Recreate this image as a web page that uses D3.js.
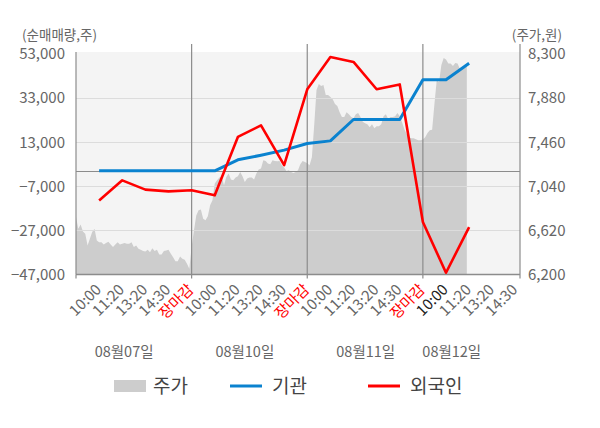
<!DOCTYPE html>
<html>
<head>
<meta charset="utf-8">
<script src="https://cdn.jsdelivr.net/npm/d3@7"></script>
<style>
body { margin: 0; background: #fff; }
svg text { font-family: "Noto Sans CJK KR", "Noto Sans", sans-serif; }
.axis-text { font-size: 15px; fill: #666; }
.unit-text { font-size: 13.5px; fill: #666; }
.time-text { font-size: 15px; fill: #666; }
.time-close { fill: #ff0000; }
.time-now { fill: #222; }
.date-text { font-size: 14.5px; fill: #666; }
.legend-text { font-size: 19px; fill: #444; }
</style>
</head>
<body>
<svg width="600" height="428"></svg>
<script>
// x axis labels, one per slot (slot 1..19)
var timeLabels = ['10:00', '11:20', '13:20', '14:30', '장마감',
                  '10:00', '11:20', '13:20', '14:30', '장마감',
                  '10:00', '11:20', '13:20', '14:30', '장마감',
                  '10:00', '11:20', '13:20', '14:30'];
var dayLabels = ['08월07일', '08월10일', '08월11일', '08월12일'];

var leftTicks = [53000, 33000, 13000, -7000, -27000, -47000];
var rightTicks = [8300, 7880, 7460, 7040, 6620, 6200];

// 순매매량 at slots 1..17
var foreignNet = [-13400, -4300, -8500, -9300, -8800, -11100, 15400, 20600, 2600,
                  37000, 51600, 49400, 37000, 39200, -23200, -46200, -25500];
var instNet = [0, 0, 0, 0, 0, 0, 5000, 7100, 9400,
               12400, 13600, 23300, 23300, 23300, 41300, 41300, 48800];

// 주가, 10 readings per slot
var priceDay1 = [6747, 6636, 6677, 6610, 6589, 6477, 6541, 6604, 6636, 6525,
                 6508, 6508, 6486, 6499, 6512, 6486, 6461, 6486, 6508, 6486,
                 6493, 6499, 6493, 6493, 6508, 6461, 6477, 6445, 6436, 6423,
                 6420, 6436, 6413, 6451, 6423, 6436, 6391, 6391, 6423, 6429,
                 6436, 6398, 6365, 6327, 6327, 6372, 6350, 6340, 6302, 6255];
var priceDay2 = [6461, 6620, 6763, 6811, 6820, 6732, 6716, 6754, 6859, 6906,
                 7066, 7097, 7123, 7129, 7050, 7129, 7161, 7104, 7097, 7123,
                 7135, 7177, 7135, 7081, 7114, 7123, 7123, 7104, 7161, 7199,
                 7209, 7288, 7282, 7257, 7250, 7288, 7282, 7279, 7282, 7241,
                 7219, 7186, 7193, 7177, 7167, 7177, 7193, 7250, 7282, 7272];
var priceDay3 = [7260, 7240, 7317, 7622, 7956, 8014, 7995, 8004, 7909, 7909,
                 7890, 7870, 7823, 7804, 7746, 7699, 7699, 7746, 7727, 7699,
                 7689, 7727, 7737, 7699, 7654, 7641, 7632, 7603, 7632, 7594,
                 7613, 7613, 7632, 7708, 7727, 7680, 7699, 7699, 7708, 7737,
                 7708, 7651, 7584, 7536, 7508, 7498, 7498, 7489, 7479, 7479];
var priceDay4 = [7486, 7508, 7548, 7575, 7579, 7823, 8052, 8033, 8195, 8262,
                 8248, 8210, 8210, 8185, 8214, 8210, 8157, 8152, 8169, 8179];

function FlowChart(){

}

FlowChart.prototype.render = function(opt){
	this.opt = opt;
	this.svg = d3.select('svg');

	this.x = d3.scaleLinear().domain([0, 19.2]).range([opt.left, opt.right]);
	this.yL = d3.scaleLinear().domain([-47000, 53000]).range([opt.bottom, opt.top]);
	this.yR = d3.scaleLinear().domain([6200, 8300]).range([opt.bottom, opt.top]);

	this.addBackground();
	this.addPriceArea();
	this.addGrid();
	this.addAxes();
	this.addLine(instNet, '#0a82cf', 3);
	this.addLine(foreignNet, '#ff0000', 2.6);
	this.addLegend();
}

FlowChart.prototype.addBackground = function(){
	var o = this.opt;
	this.svg.append('rect')
		.attr('x', o.left).attr('y', o.top - 2)
		.attr('width', o.right - o.left).attr('height', o.bottom - o.top + 2)
		.attr('fill', '#f4f4f4');
}

FlowChart.prototype.addPriceArea = function(){
	var x = this.x, y = this.yR, o = this.opt;
	var pts = [];
	[priceDay1, priceDay2, priceDay3, priceDay4].forEach(function(arr, d){
		arr.forEach(function(p, i){
			pts.push({s: d * 5 + i * 0.1, p: p});
		});
	});
	var area = d3.area()
		.x(function(d){ return x(d.s); })
		.y0(o.bottom)
		.y1(function(d){ return y(d.p); });
	this.svg.append('path').datum(pts)
		.attr('d', area)
		.attr('fill', '#cdcdcd');
}

FlowChart.prototype.addGrid = function(){
	var o = this.opt, x = this.x, yL = this.yL;
	var g = this.svg.append('g');
	g.selectAll('.hgrid').data(leftTicks.slice(1, 5)).enter()
		.append('line')
		.attr('x1', o.left).attr('x2', o.right)
		.attr('y1', function(d){ return Math.round(yL(d)) + 0.5; })
		.attr('y2', function(d){ return Math.round(yL(d)) + 0.5; })
		.attr('stroke', '#dcdcdc').attr('stroke-width', 1);
	// zero line
	g.append('line')
		.attr('x1', o.left).attr('x2', o.right)
		.attr('y1', Math.round(yL(0)) + 0.5).attr('y2', Math.round(yL(0)) + 0.5)
		.attr('stroke', '#8c8c8c').attr('stroke-width', 1);
	// day separators
	g.selectAll('.vgrid').data([5, 10, 15]).enter()
		.append('line')
		.attr('x1', function(d){ return x(d); }).attr('x2', function(d){ return x(d); })
		.attr('y1', 44).attr('y2', o.bottom)
		.attr('stroke', '#8c8c8c').attr('stroke-width', 1.2);
}

FlowChart.prototype.addAxes = function(){
	var o = this.opt, x = this.x, svg = this.svg;

	var gl = svg.append('g').attr('transform', 'translate(' + o.left + ',0)')
		.call(d3.axisLeft(this.yL).tickValues(leftTicks).tickSize(0).tickPadding(11).tickFormat(d3.format(',')));
	var gr = svg.append('g').attr('transform', 'translate(' + o.right + ',0)')
		.call(d3.axisRight(this.yR).tickValues(rightTicks).tickSize(0).tickPadding(8).tickFormat(d3.format(',')));
	[gl, gr].forEach(function(g){
		g.select('.domain').remove();
		g.selectAll('text').attr('class', 'axis-text').attr('font-size', null).attr('fill', null);
	});

	// axis frame
	svg.append('line').attr('x1', o.left).attr('x2', o.left).attr('y1', o.top - 2).attr('y2', o.bottom)
		.attr('stroke', '#8c8c8c').attr('stroke-width', 1.2);
	svg.append('line').attr('x1', o.right).attr('x2', o.right).attr('y1', 44).attr('y2', o.bottom + 4)
		.attr('stroke', '#8c8c8c').attr('stroke-width', 1.2);
	svg.append('line').attr('x1', o.left).attr('x2', o.right).attr('y1', o.bottom).attr('y2', o.bottom)
		.attr('stroke', '#8c8c8c').attr('stroke-width', 1.4);
	svg.selectAll('.xtick').data([0, 5, 10, 15]).enter()
		.append('line')
		.attr('x1', function(d){ return x(d); }).attr('x2', function(d){ return x(d); })
		.attr('y1', o.bottom).attr('y2', o.bottom + 4)
		.attr('stroke', '#8c8c8c').attr('stroke-width', 1.2);

	// units
	svg.append('text').attr('class', 'unit-text').attr('x', 22).attr('y', 40).text('(순매매량,주)');
	svg.append('text').attr('class', 'unit-text').attr('x', 562).attr('y', 40)
		.attr('text-anchor', 'end').text('(주가,원)');

	// rotated time labels
	svg.selectAll('.time').data(timeLabels).enter()
		.append('text')
		.attr('class', function(d, i){
			if(d == '장마감') return 'time-text time-close';
			if(i == 15) return 'time-text time-now';
			return 'time-text';
		})
		.attr('text-anchor', 'end')
		.attr('transform', function(d, i){
			return 'translate(' + (x(i + 1) + 3) + ',' + (o.bottom + 16) + ') rotate(-45)';
		})
		.text(function(d){ return d; });

	// day labels
	var daySlot = [2.08, 7.3, 12.53, 16.25];
	svg.selectAll('.date').data(dayLabels).enter()
		.append('text')
		.attr('class', 'date-text')
		.attr('text-anchor', 'middle')
		.attr('x', function(d, i){ return x(daySlot[i]); })
		.attr('y', 357)
		.text(function(d){ return d; });
}

FlowChart.prototype.addLine = function(values, color, width){
	var x = this.x, y = this.yL;
	var line = d3.line()
		.x(function(d, i){ return x(i + 1); })
		.y(function(d){ return y(d); });
	this.svg.append('path').datum(values)
		.attr('d', line)
		.attr('fill', 'none')
		.attr('stroke', color)
		.attr('stroke-width', width)
		.attr('stroke-linejoin', 'round');
}

FlowChart.prototype.addLegend = function(){
	var g = this.svg.append('g').attr('transform', 'translate(0,386)');
	g.append('rect').attr('x', 114).attr('y', -6).attr('width', 32).attr('height', 12).attr('fill', '#cdcdcd');
	g.append('text').attr('class', 'legend-text').attr('x', 153).attr('y', 7).text('주가');
	g.append('line').attr('x1', 230).attr('x2', 262).attr('y1', 0).attr('y2', 0)
		.attr('stroke', '#0a82cf').attr('stroke-width', 3);
	g.append('text').attr('class', 'legend-text').attr('x', 272).attr('y', 7).text('기관');
	g.append('line').attr('x1', 368).attr('x2', 400).attr('y1', 0).attr('y2', 0)
		.attr('stroke', '#ff0000').attr('stroke-width', 3);
	g.append('text').attr('class', 'legend-text').attr('x', 410).attr('y', 7).text('외국인');
}

var chart = new FlowChart();
chart.render({left: 76, right: 520, top: 54, bottom: 274.5});
</script>
</body>
</html>
